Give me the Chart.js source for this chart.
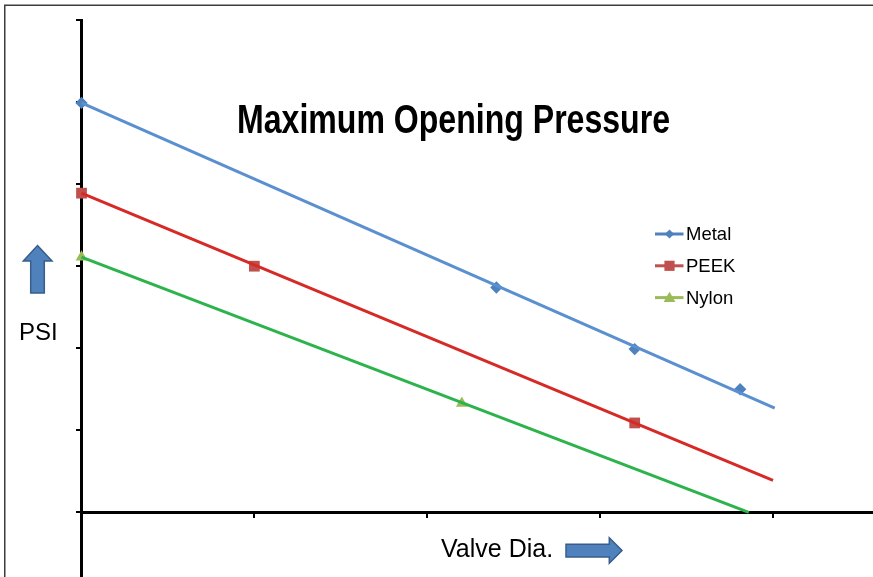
<!DOCTYPE html>
<html>
<head>
<meta charset="utf-8">
<title>Maximum Opening Pressure</title>
<script src="https://cdn.jsdelivr.net/npm/chart.js@4/dist/chart.umd.min.js"></script>
<style>
  html, body { margin: 0; padding: 0; background: #ffffff; overflow: hidden; }
  canvas { display: block; }
</style>
</head>
<body>
<!-- the plot runs off the right and bottom edges of the window, so the canvas is a little larger -->
<canvas id="chart" width="880" height="584"></canvas>
<script>
// ---- Data (x in valve-diameter steps, y in PSI grid steps) ----
const seriesNames = ['Metal', 'PEEK', 'Nylon'];

const metalX = [0, 2.40, 3.20, 3.81];
const metalY = [4.99, 2.74, 1.99, 1.50];
const peekX  = [0, 1.00, 3.20];
const peekY  = [3.89, 3.00, 1.09];
const nylonX = [0, 2.20];
const nylonY = [3.11, 1.33];

// straight trend lines through each material's points
const metalTrendX = [0, 4.01];
const metalTrendY = [4.99, 1.27];
const peekTrendX  = [0, 4.00];
const peekTrendY  = [3.89, 0.39];
const nylonTrendX = [0, 3.86];
const nylonTrendY = [3.11, 0];

const xTickValues = [0, 1, 2, 3, 4];
const yTickValues = [0, 1, 2, 3, 4, 5, 6];

const chartTitle = 'Maximum Opening Pressure';
const xAxisLabel = 'Valve Dia.';
const yAxisLabel = 'PSI';

// ---- Styles ----
const markerColors = ['#4f81bd', '#c0504d', '#9bbb59'];
const lineColors   = ['#5a8fd0', '#d62a27', '#2cb34b'];
const markerStyles = ['rectRot', 'rect', 'triangle'];
const markerRadius = [6.2, 7.6, 6.8];

const toPoints = (xs, ys) => xs.map((x, i) => ({ x: x, y: ys[i] }));

const markerSets = [toPoints(metalX, metalY), toPoints(peekX, peekY), toPoints(nylonX, nylonY)];
const trendSets  = [toPoints(metalTrendX, metalTrendY), toPoints(peekTrendX, peekTrendY), toPoints(nylonTrendX, nylonTrendY)];

const datasets = [];
seriesNames.forEach((name, i) => {
  datasets.push({
    label: name + ' trend',
    data: trendSets[i],
    showLine: true,
    borderColor: lineColors[i],
    borderWidth: 3,
    pointRadius: 0,
    fill: false,
    clip: false,
    order: 0,
    isTrend: true
  });
});
seriesNames.forEach((name, i) => {
  datasets.push({
    label: name,
    data: markerSets[i],
    showLine: false,
    pointStyle: markerStyles[i],
    pointRadius: markerRadius[i],
    pointBackgroundColor: markerColors[i],
    pointBorderColor: markerColors[i],
    pointBorderWidth: 0,
    clip: false,
    order: 1,
    isTrend: false
  });
});

function keepTicks(values) {
  return function (scale) {
    scale.ticks = values.map(v => ({ value: v }));
  };
}

// Small helpers for drawn decorations
function drawMarker(ctx, style, r, x, y) {
  ctx.beginPath();
  if (style === 'rectRot') {
    ctx.moveTo(x, y - r); ctx.lineTo(x + r, y); ctx.lineTo(x, y + r); ctx.lineTo(x - r, y);
  } else if (style === 'rect') {
    const s = r * Math.SQRT1_2;
    ctx.rect(x - s, y - s, 2 * s, 2 * s);
  } else {
    ctx.moveTo(x, y - r);
    ctx.lineTo(x + r * Math.sin(2 * Math.PI / 3), y - r * Math.cos(2 * Math.PI / 3));
    ctx.lineTo(x + r * Math.sin(4 * Math.PI / 3), y - r * Math.cos(4 * Math.PI / 3));
  }
  ctx.closePath();
  ctx.fill();
}

function blockArrow(ctx, pts) {
  ctx.beginPath();
  pts.forEach((p, i) => (i ? ctx.lineTo(p[0], p[1]) : ctx.moveTo(p[0], p[1])));
  ctx.closePath();
  ctx.fillStyle = '#4f81bd';
  ctx.fill();
  ctx.lineWidth = 1.5;
  ctx.strokeStyle = '#385d8a';
  ctx.stroke();
}

const decorations = {
  id: 'decorations',
  beforeDraw(chart) {
    const ctx = chart.ctx;
    ctx.save();
    ctx.fillStyle = '#ffffff';
    ctx.fillRect(0, 0, chart.width, chart.height);
    // picture frame (left and top edges)
    ctx.fillStyle = '#3c3c3c';
    ctx.fillRect(4, 5, 1.5, chart.height - 5);
    ctx.fillRect(4, 4.5, chart.width - 4, 1.5);
    ctx.restore();
  },
  afterDraw(chart) {
    const ctx = chart.ctx;
    ctx.save();

    // title
    ctx.fillStyle = '#000000';
    ctx.font = 'bold 41px "Liberation Sans Narrow", "Arial Narrow", "Liberation Sans", Arial, sans-serif';
    ctx.textBaseline = 'alphabetic';
    ctx.textAlign = 'left';
    const targetW = 433;
    const w = ctx.measureText(chartTitle).width;
    const sx = targetW / w;
    ctx.save();
    ctx.translate(453.5 - targetW / 2, 133);
    ctx.scale(sx, 1);
    ctx.fillText(chartTitle, 0, 0);
    ctx.restore();

    // axis labels
    ctx.font = '24px "Liberation Sans", Arial, sans-serif';
    ctx.fillText(yAxisLabel, 19, 339.5);
    ctx.font = '25px "Liberation Sans", Arial, sans-serif';
    ctx.fillText(xAxisLabel, 441, 557);

    // direction arrows
    blockArrow(ctx, [[37.5, 245.5], [52, 261], [44.3, 261], [44.3, 293], [30.7, 293], [30.7, 261], [23.3, 261]]);
    blockArrow(ctx, [[566, 544.3], [609.3, 544.3], [609.3, 537.7], [622, 550.5], [609.3, 563.3], [609.3, 557], [566, 557]]);

    // legend
    const items = chart.data.datasets.filter(d => !d.isTrend);
    const legendX = 655, legendY = 234, rowH = 31.8;
    ctx.font = '18.5px "Liberation Sans", Arial, sans-serif';
    ctx.textBaseline = 'middle';
    items.forEach((d, i) => {
      const y = legendY + i * rowH;
      ctx.strokeStyle = d.pointBackgroundColor;
      ctx.lineWidth = 3;
      ctx.beginPath();
      ctx.moveTo(legendX, y);
      ctx.lineTo(legendX + 28.5, y);
      ctx.stroke();
      ctx.fillStyle = d.pointBackgroundColor;
      const r = d.pointStyle === 'rect' ? 7.2 : (d.pointStyle === 'triangle' ? 6.8 : 4.6);
      drawMarker(ctx, d.pointStyle, r, legendX + 14.5, y + (d.pointStyle === 'triangle' ? 1 : 0));
      ctx.fillStyle = '#000000';
      ctx.fillText(d.label, legendX + 31, y + 1);
    });

    ctx.restore();
  }
};

new Chart(document.getElementById('chart'), {
  type: 'scatter',
  data: { datasets: datasets },
  options: {
    responsive: false,
    devicePixelRatio: 1,
    animation: false,
    events: [],
    layout: { padding: { left: 81.5, right: 0, top: 20, bottom: 0 } },
    plugins: {
      legend: { display: false },
      tooltip: { enabled: false },
      title: { display: false }
    },
    scales: {
      x: {
        type: 'linear',
        position: { y: 0 },
        min: 0,
        max: 4.575,
        afterBuildTicks: keepTicks(xTickValues),
        ticks: { display: false },
        grid: { display: true, drawOnChartArea: false, drawTicks: true, tickLength: 4, color: '#000000', lineWidth: 2 },
        border: { display: true, color: '#000000', width: 3 }
      },
      y: {
        type: 'linear',
        position: { x: 0 },
        min: -0.78,
        max: 6,
        afterBuildTicks: keepTicks(yTickValues),
        ticks: { display: false },
        grid: { display: true, drawOnChartArea: false, drawTicks: true, tickLength: 4, color: '#000000', lineWidth: 2 },
        border: { display: true, color: '#000000', width: 3 }
      }
    }
  },
  plugins: [decorations]
});
</script>
</body>
</html>
